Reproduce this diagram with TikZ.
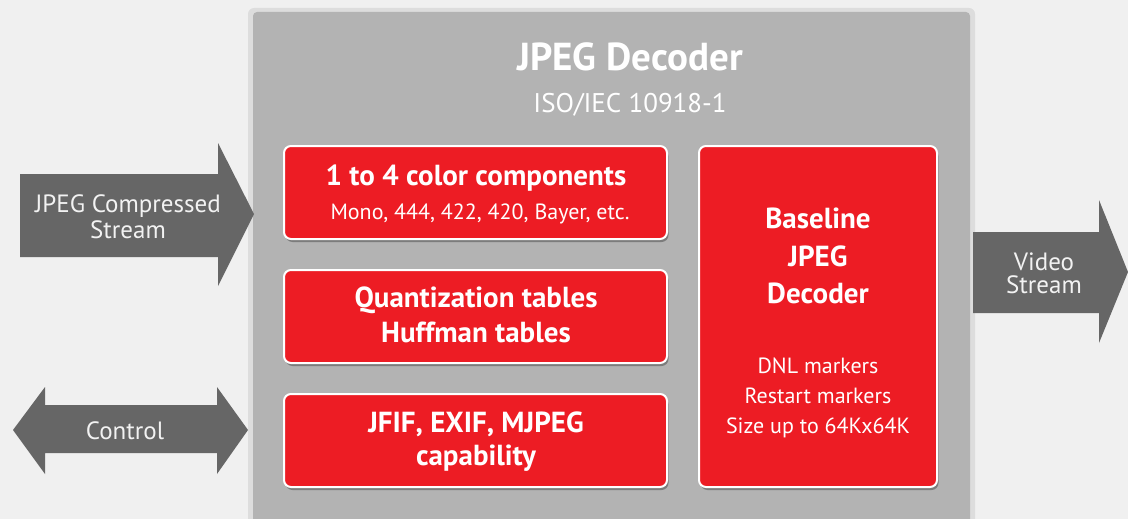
\documentclass[tikz,border=0pt]{standalone}
\usepackage{fontspec}
\setmainfont{PT Sans}
\usetikzlibrary{shadows}
\definecolor{bgpage}{HTML}{F0F0F0}
\definecolor{panelgray}{HTML}{B3B3B3}
\definecolor{jred}{HTML}{ED1C24}
\definecolor{arrowgray}{HTML}{666666}
\definecolor{arrowtext}{HTML}{F2F2F2}

\begin{document}
\begin{tikzpicture}[x=1pt,y=-1pt,
  redbox/.style={fill=jred,draw=white,line width=2pt,rounded corners=7pt,inner sep=0pt,
    drop shadow={shadow xshift=1.5pt,shadow yshift=-3pt,opacity=.3,fill=black}},
  boxtxt/.style={text=white,anchor=base,inner sep=0pt},
  bigtxt/.style={boxtxt,font=\fontsize{29}{32}\selectfont\bfseries},
  smalltxt/.style={boxtxt,font=\fontsize{22}{24}\selectfont},
  arrowtxt/.style={text=arrowtext,anchor=base,inner sep=0pt,font=\fontsize{25}{27}\selectfont}]
\useasboundingbox (0,0) rectangle (1128,519);
\fill[bgpage] (0,0) rectangle (1128,519);
% decoder panel
\begin{scope}
\clip (0,0) rectangle (1128,519);
\fill[black,opacity=.08,rounded corners=6pt] (248,8) rectangle (975,540);
\fill[panelgray,rounded corners=4pt] (253,12) rectangle (970,540);
\end{scope}
\node[anchor=base,text=white,inner sep=0pt,font=\fontsize{39}{40}\selectfont\bfseries] (title) at (630,71) {JPEG Decoder};
\node[anchor=base,text=white,inner sep=0pt,font=\fontsize{27}{28}\selectfont] (std) at (630,113) {ISO/IEC 10918-1};
% blocks
\node[redbox,minimum width=383pt,minimum height=93pt] (comp) at (475.5,192.5) {};
\node[redbox,minimum width=383pt,minimum height=93pt] (tables) at (475.5,316.5) {};
\node[redbox,minimum width=383pt,minimum height=93pt] (formats) at (475.5,440.5) {};
\node[redbox,minimum width=238pt,minimum height=341pt] (core) at (818,316.5) {};
\node[bigtxt] (comp1) at (476,185) {1 to 4 color components};
\node[smalltxt] (comp2) at (480,219) {Mono, 444, 422, 420, Bayer, etc.};
\node[bigtxt] (tab1) at (476,307) {Quantization tables};
\node[bigtxt] (tab2) at (476,342) {Huffman tables};
\node[bigtxt] (fmt1) at (476,432) {JFIF, EXIF, MJPEG};
\node[bigtxt] (fmt2) at (476,465) {capability};
\node[bigtxt] (core1) at (818,228) {Baseline};
\node[bigtxt] (core2) at (818,266) {JPEG};
\node[bigtxt] (core3) at (818,303) {Decoder};
\node[smalltxt] (feat1) at (818,373) {DNL markers};
\node[smalltxt] (feat2) at (818,403) {Restart markers};
\node[smalltxt] (feat3) at (818,433) {Size up to 64Kx64K};
% in/out arrows
\fill[arrowgray] (20,174)--(218,174)--(218,143)--(254,214)--(218,286)--(218,257)--(20,257)--cycle;
\fill[arrowgray] (45,405)--(217,405)--(217,387)--(248,430)--(217,474)--(217,453)--(45,453)--(45,474)--(13,430)--(45,387)--cycle;
\fill[arrowgray] (973,232)--(1099,232)--(1099,200)--(1128,272)--(1099,343)--(1099,313)--(973,313)--cycle;
\node[arrowtxt] (instream1) at (128,212) {JPEG Compressed};
\node[arrowtxt] (instream2) at (128,238) {Stream};
\node[arrowtxt] (ctrl) at (125,439) {Control};
\node[arrowtxt] (video1) at (1044,270) {Video};
\node[arrowtxt] (video2) at (1044,293) {Stream};
\end{tikzpicture}
\end{document}
